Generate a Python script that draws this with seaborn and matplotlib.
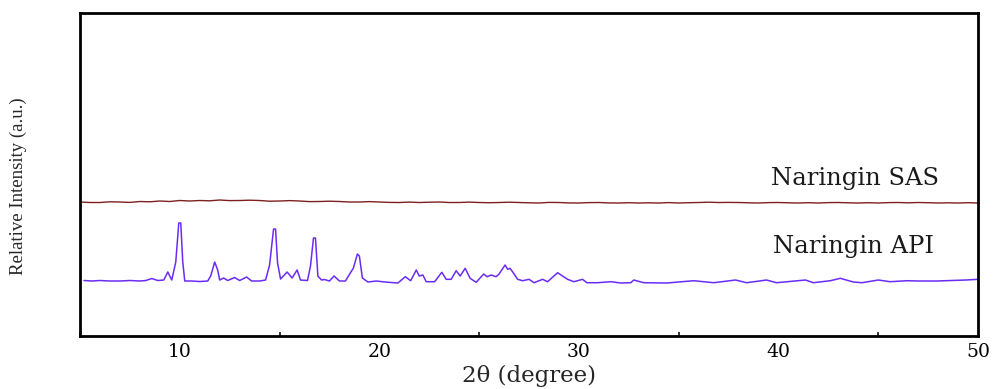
import numpy as np
import pandas as pd
import matplotlib
matplotlib.use("Agg")
import matplotlib.pyplot as plt
from matplotlib.ticker import MultipleLocator
import seaborn as sns


# Naringin API diffraction pattern (2theta in degree, intensity in a.u.)
api_two_theta = [5.2, 5.6, 6.0, 6.5, 7.0, 7.5, 8.0, 8.3, 8.6, 8.9, 9.2, 9.4, 9.6,
                 9.8, 9.95, 10.05, 10.15, 10.25, 10.6, 11.0, 11.4, 11.55, 11.75,
                 11.9, 12.0, 12.2, 12.4, 12.75, 13.0, 13.35, 13.6, 14.0, 14.3,
                 14.5, 14.7, 14.8, 14.9, 15.05, 15.38, 15.63, 15.88, 16.05, 16.4,
                 16.55, 16.7, 16.8, 16.92, 17.1, 17.25, 17.5, 17.73, 18.0, 18.3,
                 18.7, 18.9, 19.0, 19.15, 19.43, 19.85, 20.3, 20.6, 20.93, 21.3,
                 21.57, 21.85, 22.0, 22.18, 22.35, 22.77, 23.13, 23.35, 23.6,
                 23.85, 24.05, 24.3, 24.55, 24.85, 25.23, 25.4, 25.6, 25.85, 26.0,
                 26.3, 26.43, 26.55, 26.73, 26.93, 27.18, 27.5, 27.75, 28.18,
                 28.43, 28.93, 29.18, 29.43, 29.75, 30.18, 30.4, 30.93, 31.6,
                 32.1, 32.6, 32.75, 33.25, 34.4, 35.75, 36.75, 37.85, 38.4, 39.4,
                 39.9, 41.35, 41.75, 42.6, 43.1, 43.75, 44.18, 45.0, 45.6, 46.43,
                 47.1, 47.93, 49.4, 50.0]
api_intensity = [25, 20, 25, 20, 20, 25, 20, 25, 45, 25, 30, 110, 30,
                 210, 600, 600, 210, 20, 20, 15, 20, 70, 210,
                 130, 30, 50, 25, 55, 25, 60, 20, 20, 30,
                 180, 540, 540, 200, 40, 110, 50, 130, 30, 25,
                 170, 450, 450, 70, 30, 35, 20, 70, 20, 20,
                 150, 290, 270, 50, 10, 20, 10, 5, 0, 63,
                 23, 130, 70, 80, 13, 13, 107, 37, 37,
                 123, 70, 147, 47, 7, 90, 63, 80, 63, 90,
                 180, 137, 147, 97, 37, 23, 37, 3, 37,
                 13, 103, 70, 37, 13, 37, 3, 3, 13,
                 0, 3, 30, 3, 0, 23, 3, 30, 3, 30,
                 3, 30, 3, 23, 47, 10, 3, 30, 13, 23,
                 20, 20, 30, 37]

# Naringin SAS diffraction pattern (amorphous, flat)
sas_two_theta = [5.0, 5.5, 6.0, 6.5, 7.0, 7.5, 8.0, 8.5, 9.0, 9.5, 10.0, 10.5,
                 11.0, 11.5, 12.0, 12.5, 13.0, 13.5, 14.0, 14.5, 15.0, 15.5,
                 16.0, 16.5, 17.0, 17.5, 18.0, 18.5, 19.0, 19.5, 20.0, 20.5,
                 21.0, 21.5, 22.0, 22.5, 23.0, 23.5, 24.0, 24.5, 25.0, 25.5,
                 26.0, 26.5, 27.0, 27.5, 28.0, 28.5, 29.0, 29.5, 30.0, 30.5,
                 31.0, 31.5, 32.0, 32.5, 33.0, 33.5, 34.0, 34.5, 35.0, 35.5,
                 36.0, 36.5, 37.0, 37.5, 38.0, 38.5, 39.0, 39.5, 40.0, 40.5,
                 41.0, 41.5, 42.0, 42.5, 43.0, 43.5, 44.0, 44.5, 45.0, 45.5,
                 46.0, 46.5, 47.0, 47.5, 48.0, 48.5, 49.0, 49.5, 50.0]
sas_intensity = [10, 5, 5, 12, 10, 6, 15, 12, 20, 15, 25, 20,
                 25, 22, 30, 24, 25, 28, 25, 18, 20, 24,
                 20, 14, 15, 18, 15, 10, 10, 14, 10, 6,
                 5, 9, 5, 8, 10, 5, 5, 9, 5, 3,
                 5, 8, 5, 2, 0, 6, 5, 1, 0, 4,
                 5, 1, 0, 3, 0, 2, 0, 4, 0, 3,
                 5, 8, 5, 6, 5, 2, 0, 4, 5, 2,
                 0, 3, 0, 4, 5, 2, 0, 3, 0, 4,
                 5, 2, 5, 3, 0, 2, 0, 3, 0]

labels = ["Naringin API", "Naringin SAS"]
x_ticks = [10, 20, 30, 40, 50]

# vertical stacking of the two patterns
api_offset = 530
sas_offset = 1330

api = pd.DataFrame({"two_theta": api_two_theta,
                    "intensity": np.array(api_intensity) + api_offset})
sas = pd.DataFrame({"two_theta": sas_two_theta,
                    "intensity": np.array(sas_intensity) + sas_offset})

sns.set_style("white")
plt.rcParams["font.family"] = ["DejaVu Serif"]

fig = plt.figure(figsize=(9.96, 3.89), dpi=100)
ax = fig.add_axes([0.0803, 0.1362, 0.9017, 0.8304])

sns.lineplot(data=api, x="two_theta", y="intensity", ax=ax, color="#6a2cf5",
             linewidth=1.1, estimator=None, sort=False)
sns.lineplot(data=sas, x="two_theta", y="intensity", ax=ax, color="#7e2020",
             linewidth=1.0, estimator=None, sort=False)

ax.text(39.7, 830, labels[0], fontsize=17.5, ha="left", va="baseline", color="#1a1a1a")
ax.text(39.6, 1510, labels[1], fontsize=17.5, ha="left", va="baseline", color="#1a1a1a")

ax.set_xlim(5, 50)
ax.set_ylim(0, 3230)
ax.set_xticks(x_ticks)
ax.xaxis.set_minor_locator(MultipleLocator(5))
ax.set_yticks([])
ax.tick_params(axis="x", which="major", direction="in", length=5, width=1.3,
               labelsize=13.5, pad=5, colors="black")
ax.tick_params(axis="x", which="minor", direction="in", length=3, width=1.3,
               bottom=True)
for s in ax.spines.values():
    s.set_color("black")
    s.set_linewidth(2)

ax.set_xlabel("2\u03b8 (degree)", fontsize=16.5, labelpad=3)
ax.set_ylabel("Relative Intensity (a.u.)", fontsize=13.5,
              family="Liberation Serif")
ax.yaxis.set_label_coords(-0.059, 0.464)

fig.savefig("out.png", dpi=100)
